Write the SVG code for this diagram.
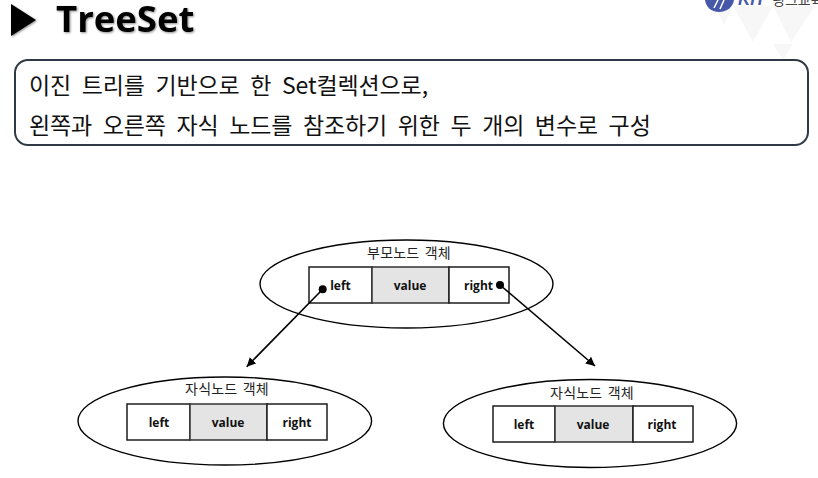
<svg xmlns="http://www.w3.org/2000/svg" width="818" height="478" viewBox="0 0 818 478">
<style>
text{font-family:"Noto Sans CJK KR","Noto Sans",sans-serif}
.lb{font-size:12px;font-weight:700;text-anchor:middle;font-family:"Open Sans","Noto Sans",sans-serif;fill:#111}
.cap{font-size:14px;text-anchor:middle;fill:#222;word-spacing:2px;letter-spacing:.2px}
.body{font-size:23px;fill:#111;word-spacing:5.6px;letter-spacing:-.12px}
.el{fill:#fff;stroke:#000;stroke-width:1.4}
.c{fill:#fff;stroke:#1c1c1c;stroke-width:1.5}
.v{fill:#e4e4e4;stroke:#333;stroke-width:1.5}
.ln{stroke:#000;stroke-width:1.6;fill:none}
</style>
<defs>
<marker id="ah" markerUnits="userSpaceOnUse" markerWidth="10" markerHeight="10" refX="9" refY="4.500" orient="auto"><path d="M0 0L9 4.500L0 9z" fill="#000"/></marker>
<filter id="sh" x="-10%" y="-10%" width="125%" height="130%"><feDropShadow dx="1" dy="1" stdDeviation="1" flood-color="#000" flood-opacity=".45"/></filter>
</defs>
<g id="watermark" fill="#f7f7f7">
<path d="M715 6H733L724 25z"/><path d="M733 6H773L753 42z"/><path d="M773 6H815L791 42z"/><path d="M773 44H793L783 60z"/>
</g>
<g id="logo">
<path d="M705 0H734C733 7 727 12 719 12C711 12 706 7 705 0z" fill="#4659a9"/>
<path d="M714 8L718 0M720 9L724 0" stroke="#fff" stroke-width="1.5" fill="none"/>
<text x="738" y="5" font-size="17" font-weight="700" font-style="italic" fill="#4659a9" style="font-family:'Liberation Sans',sans-serif">KIT</text>
<text x="772" y="5" font-size="14" fill="#444">링크교육</text>
</g>
<g id="title">
<path d="M11 4L36 20L11 36z" fill="#000" filter="url(#sh)"/>
<text x="56" y="32" font-size="36.500" font-weight="700" fill="#000" filter="url(#sh)" style="font-family:'Open Sans','Noto Sans',sans-serif">TreeSet</text>
</g>
<g id="intro">
<rect x="15" y="60" width="793" height="85" rx="13" fill="#fff" stroke="#2f3a46" stroke-width="2"/>
<text class="body" x="29" y="94">이진 트리를 기반으로 한 Set컬렉션으로,</text>
<text class="body" x="29" y="134">왼쪽과 오른쪽 자식 노드를 참조하기 위한 두 개의 변수로 구성</text>
</g>
<g id="parent">
<ellipse class="el" cx="406.500" cy="284" rx="146.500" ry="44"/>
<text class="cap" x="409" y="258">부모노드 객체</text>
<rect class="c" x="309" y="267" width="63" height="36"/><rect class="v" x="372" y="267" width="77" height="36"/><rect class="c" x="449" y="267" width="60" height="36"/>
<text class="lb" x="340.500" y="290">left</text><text class="lb" x="410" y="290">value</text><text class="lb" x="478.500" y="290">right</text>
</g>
<g id="child-left">
<ellipse class="el" cx="224.800" cy="421" rx="146.800" ry="44"/>
<text class="cap" x="227" y="394">자식노드 객체</text>
<rect class="c" x="127" y="404" width="63" height="36"/><rect class="v" x="190" y="404" width="77" height="36"/><rect class="c" x="267" y="404" width="60" height="36"/>
<text class="lb" x="159" y="427">left</text><text class="lb" x="228" y="427">value</text><text class="lb" x="297" y="427">right</text>
</g>
<g id="child-right">
<ellipse class="el" cx="590" cy="423.500" rx="146.600" ry="44"/>
<text class="cap" x="592" y="398">자식노드 객체</text>
<rect class="c" x="493" y="406" width="62" height="36"/><rect class="v" x="555" y="406" width="78" height="36"/><rect class="c" x="633" y="406" width="60" height="36"/>
<text class="lb" x="524" y="429">left</text><text class="lb" x="593" y="429">value</text><text class="lb" x="662" y="429">right</text>
</g>
<g id="connectors">
<circle cx="322.700" cy="289.300" r="4"/><circle cx="500" cy="285" r="4"/>
<path class="ln" d="M322.700 289.300L246.700 366.700" marker-end="url(#ah)"/>
<path class="ln" d="M500 285L595 366" marker-end="url(#ah)"/>
</g>
</svg>
